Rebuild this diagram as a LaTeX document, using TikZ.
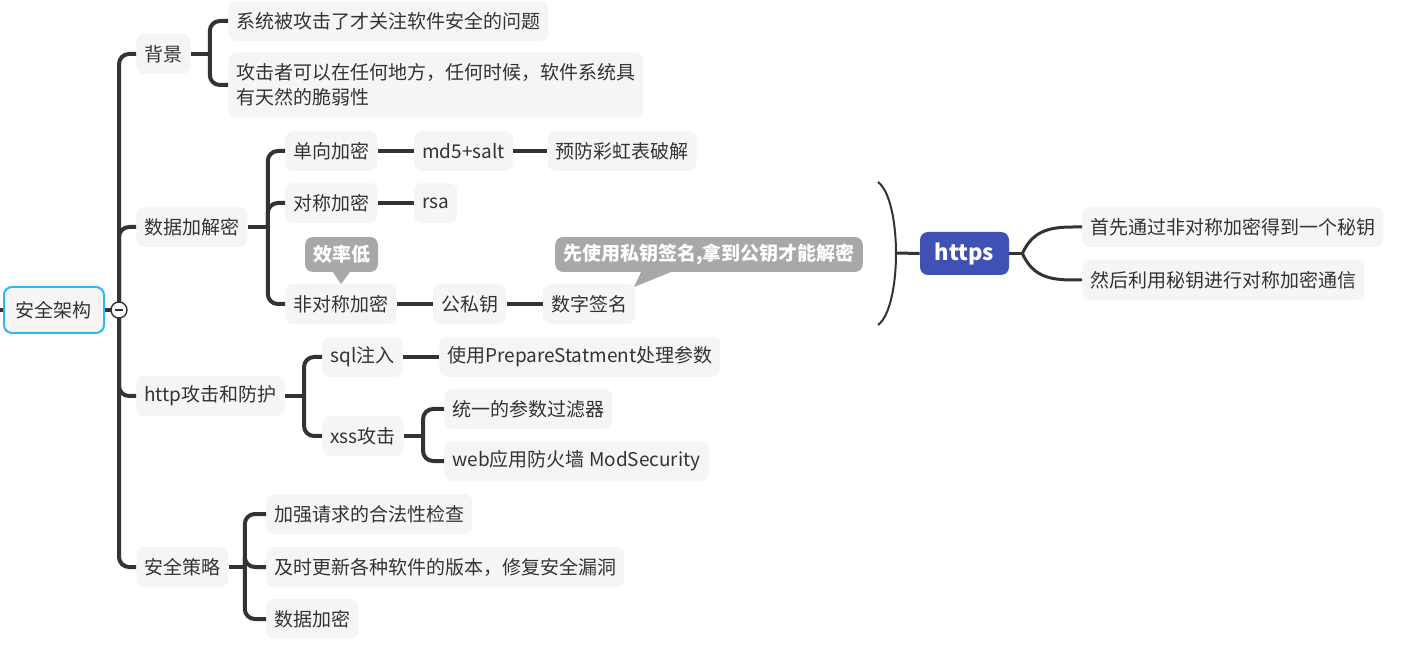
\documentclass[tikz,border=0pt]{standalone}
\usepackage{fontspec}
\setmainfont{Noto Sans CJK SC}
\usetikzlibrary{positioning,calc}
\definecolor{zi}{HTML}{333333}
\definecolor{kuang}{HTML}{F5F5F5}
\definecolor{lan}{HTML}{3F51B5}
\definecolor{qianlan}{HTML}{2EB8F2}
\definecolor{biaozhu}{HTML}{A8A8A8}

\begin{document}
\begin{tikzpicture}[x=0.5pt,y=-0.5pt,
    font=\fontsize{9.5}{12.5}\selectfont,
    jd/.style={fill=kuang,text=zi,rounded corners=4pt,inner xsep=4pt,inner ysep=0pt,minimum height=20pt,anchor=west},
    lx/.style={draw=zi,line width=2pt,rounded corners=5pt},
    bz/.style={fill=biaozhu,text=white,font=\fontsize{9.5}{12}\selectfont\bfseries,rounded corners=4pt,inner xsep=4pt,inner ysep=0pt,minimum height=17.5pt}]
    \useasboundingbox (0,0) rectangle (1404,652);

    % 中心主题
    \node[jd,draw=qianlan,line width=1pt,inner xsep=6pt,minimum height=23pt] (root) at (3,310) {安全架构};

    % 一级分支
    \node[jd] (bj) at (136,54) {背景};
    \node[jd] (sj) at (136,227) {数据加解密};
    \node[jd] (http) at (136,396) {http攻击和防护};
    \node[jd] (cl) at (136,567) {安全策略};

    % 背景
    \node[jd] (bj1) at (228,21) {系统被攻击了才关注软件安全的问题};
    \node[jd,align=left,minimum height=32.5pt] (bj2) at (228,85) {攻击者可以在任何地方，任何时候，软件系统具\\有天然的脆弱性};

    % 数据加解密
    \node[jd] (dx) at (285,151) {单向加密};
    \node[jd,right=18pt of dx] (md5) {md5+salt};
    \node[jd,right=17pt of md5] (cai) {预防彩虹表破解};
    \node[jd] (dc) at (285,203) {对称加密};
    \node[jd,right=18pt of dc] (rsa) {rsa};
    \node[jd] (fdc) at (285,304) {非对称加密};
    \node[jd,right=18pt of fdc] (gsy) {公私钥};
    \node[jd,right=18pt of gsy] (qm) {数字签名};

    % http攻击和防护
    \node[jd] (sql) at (322,357) {sql注入};
    \node[jd,right=18pt of sql] (sqlf) {使用PrepareStatment处理参数};
    \node[jd] (xss) at (322,436) {xss攻击};
    \node[jd] (gl) at (444,409) {统一的参数过滤器};
    \node[jd] (waf) at (444,461) {web应用防火墙 ModSecurity};

    % 安全策略
    \node[jd] (cl1) at (266,514) {加强请求的合法性检查};
    \node[jd] (cl2) at (266,567) {及时更新各种软件的版本，修复安全漏洞};
    \node[jd] (cl3) at (266,619) {数据加密};

    % 连线
    \draw[lx] (root.west) -- ++(-4,0);
    \draw[lx] (root.east) -- ++(14,0) coordinate (gan);
    \foreach \c in {bj,sj,http,cl}
        \draw[lx] (gan) |- (\c.west);

    \draw[lx] (bj.east) -- ++(19,0) coordinate (bjk);
    \foreach \c in {bj1,bj2}
        \draw[lx] (bjk) |- (\c.west);

    \draw[lx] (sj.east) -- ++(20,0) coordinate (sjk);
    \foreach \c in {dx,dc,fdc}
        \draw[lx] (sjk) |- (\c.west);
    \draw[lx] (dx) -- (md5);
    \draw[lx] (md5) -- (cai);
    \draw[lx] (dc) -- (rsa);
    \draw[lx] (fdc) -- (gsy);
    \draw[lx] (gsy) -- (qm);

    \draw[lx] (http.east) -- ++(19,0) coordinate (hk);
    \foreach \c in {sql,xss}
        \draw[lx] (hk) |- (\c.west);
    \draw[lx] (sql) -- (sqlf);
    \draw[lx] (xss.east) -- ++(19,0) coordinate (xk);
    \foreach \c in {gl,waf}
        \draw[lx] (xk) |- (\c.west);

    \draw[lx] (cl.east) -- ++(16,0) coordinate (clk);
    \foreach \c in {cl1,cl2,cl3}
        \draw[lx] (clk) |- (\c.west);

    % 收起按钮
    \node[circle,draw=zi,fill=white,line width=0.7pt,inner sep=0pt,minimum size=8pt] (zd) at (gan) {};
    \draw[zi,line width=0.7pt] ($(zd.center)+(-4,0)$) -- ($(zd.center)+(4,0)$);

    % 标注
    \node[bz] (xl) at (341.5,254.5) {效率低};
    \fill[biaozhu] ($(xl.south)+(-9,-1)$) -- (341,284) -- ($(xl.south)+(9,-1)$) -- cycle;
    \node[bz] (qmbz) at (709,254.5) {先使用私钥签名,拿到公钥才能解密};
    \fill[biaozhu] (642,270) -- (634,287) -- (676,270) -- cycle;

    % 概要
    \coordinate (kt) at (878,182);
    \coordinate (kb) at (878,325);
    \coordinate (km) at (896,253);
    \draw[zi,line width=1pt] (kt) .. controls (902,200) and (902,307) .. (kb);
    \node[fill=lan,text=white,font=\fontsize{11}{13}\selectfont\bfseries,rounded corners=4pt,minimum width=44.5pt,minimum height=21.5pt] (https) at (964.5,253.5) {https};
    \draw[zi,line width=1.5pt] (km) -- (https.west);

    \node[jd] (s1) at (1082,227) {首先通过非对称加密得到一个秘钥};
    \node[jd] (s2) at (1082,280) {然后利用秘钥进行对称加密通信};
    \draw[zi,line width=1.5pt] (https.east) -- ++(13,0) coordinate (sk);
    \draw[zi,line width=1.5pt] (sk) .. controls +(10,-22) and +(-25,0) .. (1073,227) -- (s1.west);
    \draw[zi,line width=1.5pt] (sk) .. controls +(10,22) and +(-25,0) .. (1073,280) -- (s2.west);
\end{tikzpicture}
\end{document}
